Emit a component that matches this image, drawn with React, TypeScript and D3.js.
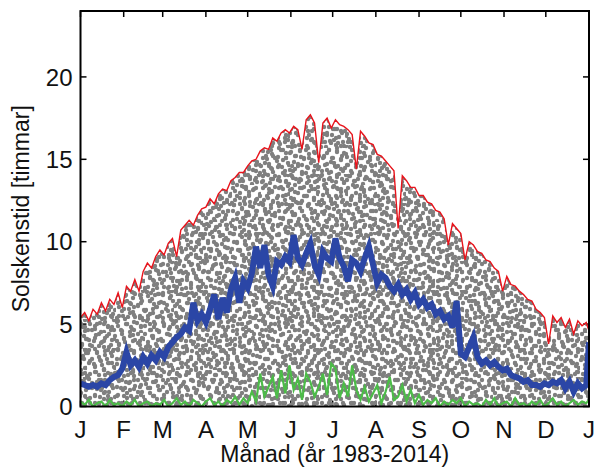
import React from 'react';
import * as d3 from 'd3';

// Day of year for each sample (every third day, plus the last day)
const days: number[] = d3.range(1, 365, 3).concat([366]);

// Highest daily sunshine (red), 1983-2014
const maxHours: number[] = [
    5.4, 5.7, 5.2, 5.9, 5.6, 6.3, 5.8, 6.5, 6.2, 6.9,
    6.0, 7.3, 7.0, 7.7, 7.0, 8.2, 8.7, 8.4, 9.1, 9.5,
    9.2, 9.9, 10.2, 9.1, 10.7, 11.0, 11.3, 11.0, 11.6, 12.0,
    12.1, 12.6, 12.3, 12.9, 13.2, 13.1, 13.7, 13.9, 14.2, 14.2,
    14.6, 14.9, 15.0, 15.5, 15.7, 15.6, 16.3, 16.1, 16.6, 16.8,
    16.6, 17.0, 16.8, 15.6, 17.4, 17.7, 17.2, 14.8, 17.2, 17.5,
    16.9, 17.4, 17.1, 17.0, 16.8, 16.5, 14.4, 16.7, 16.4, 16.0,
    15.9, 15.3, 15.2, 14.9, 14.6, 14.3, 10.8, 14.0, 13.7, 13.3,
    13.3, 12.8, 12.8, 12.4, 12.3, 11.9, 11.8, 11.4, 9.8, 11.1,
    10.8, 10.5, 8.9, 10.0, 9.8, 9.4, 9.3, 8.9, 8.8, 8.4,
    8.2, 7.0, 7.9, 7.4, 7.3, 7.0, 6.8, 6.5, 6.4, 5.9,
    5.7, 5.4, 3.8, 5.5, 5.1, 5.4, 4.8, 5.3, 4.4, 5.2,
    4.9, 5.1, 4.6
];

// Mean daily sunshine (blue)
const meanHours: number[] = [
    1.4, 1.3, 1.2, 1.3, 1.2, 1.4, 1.3, 1.6, 1.8, 1.9,
    2.3, 3.3, 2.5, 2.8, 2.4, 3.0, 2.6, 3.1, 2.8, 3.3,
    3.0, 3.6, 3.9, 4.2, 4.4, 4.8, 4.6, 6.3, 5.2, 5.6,
    5.1, 5.9, 6.8, 5.3, 6.6, 5.7, 7.1, 7.8, 6.3, 7.6,
    7.2, 8.1, 9.7, 8.4, 9.8, 8.0, 7.3, 8.8, 8.6, 9.1,
    8.8, 10.4, 9.0, 8.6, 9.3, 9.9, 8.6, 8.0, 9.4, 9.0,
    8.8, 10.2, 9.0, 8.5, 7.6, 8.9, 8.7, 8.2, 9.0, 9.7,
    8.6, 7.5, 8.0, 7.8, 7.3, 7.0, 7.4, 6.8, 7.1, 6.5,
    6.9, 6.2, 6.5, 6.0, 6.2, 5.6, 5.8, 5.3, 5.5, 4.8,
    6.4, 3.2, 3.0, 3.6, 4.2, 3.0, 2.6, 2.8, 2.5, 2.7,
    2.4, 2.2, 2.3, 1.9, 1.8, 1.7, 1.5, 1.6, 1.3, 1.3,
    1.2, 1.4, 1.3, 1.5, 1.4, 1.6, 1.1, 1.5, 0.9, 1.4,
    1.1, 1.3, 3.9
];

// Lowest daily sunshine (green)
const minHours: number[] = [
    0.3, 0.1, 0.4, 0.0, 0.2, 0.3, 0.0, 0.4, 0.1, 0.2,
    0.0, 0.3, 0.1, 0.4, 0.0, 0.2, 0.3, 0.0, 0.2, 0.1,
    0.4, 0.0, 0.2, 0.5, 0.1, 0.3, 0.0, 0.4, 0.2, 0.0,
    0.3, 0.5, 0.1, 0.3, 0.0, 0.4, 0.2, 0.6, 0.1, 0.5,
    0.2, 0.9, 0.3, 2.0, 0.6, 1.2, 1.8, 0.5, 2.2, 0.8,
    2.5, 1.0, 1.7, 0.4, 2.0, 1.5, 0.6, 1.2, 2.0, 0.7,
    2.6, 2.3, 0.5, 1.4, 0.6, 2.5, 1.0, 0.4, 1.2, 0.3,
    0.8, 1.3, 0.2, 0.9, 1.8, 0.4, 0.6, 1.3, 0.3, 1.0,
    0.2, 0.7, 0.1, 0.4, 0.2, 0.5, 0.0, 0.3, 0.1, 0.4,
    0.2, 0.5, 0.0, 0.3, 0.1, 0.2, 0.0, 0.4, 0.1, 0.5,
    0.0, 0.2, 0.3, 0.0, 0.5, 0.1, 0.2, 0.0, 0.3, 0.1,
    0.4, 0.0, 0.2, 0.5, 0.1, 0.3, 0.0, 0.2, 0.4, 0.1,
    0.3, 0.2, 0.4
];

const monthStarts: number[] = [1, 32, 60, 91, 121, 152, 182, 213, 244, 274, 305, 335, 366];
const monthLabels: string[] = ['J', 'F', 'M', 'A', 'M', 'J', 'J', 'A', 'S', 'O', 'N', 'D', 'J'];
const yTicks: number[] = [0, 5, 10, 15, 20];

// hand placed dots for the grey scatter texture (three tiles of different size overlaid)
const dotTiles: { size: number; dots: [number, number][] }[] = [
    { size: 23, dots: [[3, 4], [12, 2], [19, 8], [7, 12], [15, 14], [2, 19], [10, 20], [20, 18], [16, 5]] },
    {
        size: 29, dots: [[2, 2], [10, 5], [18, 3], [25, 8], [5, 11], [14, 13], [22, 15],
        [28, 20], [8, 19], [17, 22], [3, 26], [12, 27], [24, 26], [27, 1]]
    },
    {
        size: 37, dots: [[4, 3], [13, 6], [22, 2], [31, 5], [8, 11], [18, 13], [27, 10], [35, 14],
        [2, 18], [12, 20], [23, 19], [31, 22], [6, 26], [16, 28], [26, 27], [34, 30],
        [3, 34], [11, 35], [21, 33], [30, 36]]
    }
];

const font = '"Liberation Sans", Arial, sans-serif';

const App = () => {
    const width = 596;
    const height = 471;
    const left = 80.5;
    const right = 589;
    const top = 11;
    const bottom = 406.5;

    const x = d3.scaleLinear().domain([1, 366]).range([left, right]);
    const y = d3.scaleLinear().domain([0, 24]).range([bottom, top]);

    const n = Math.min(days.length, maxHours.length, meanHours.length, minHours.length);
    const idx = d3.range(n);

    const line = (vals: number[]) =>
        d3.line<number>()
            .x(i => x(days[i]))
            .y(i => y(vals[i]))(idx) || '';

    const cloud = d3.area<number>()
        .x(i => x(days[i]))
        .y0(y(0))
        .y1(i => y(maxHours[i]))(idx) || '';

    const tickLen = 6;

    return (
        <svg width={width} height={height}
            style={{ position: 'absolute', left: 0, top: 0, background: '#fff' }}>
            <defs>
                {dotTiles.map((t, k) => (
                    <pattern key={k} id={`dots${k}`} width={t.size} height={t.size}
                        patternUnits="userSpaceOnUse">
                        {t.dots.map(([cx, cy], i) => (
                            <circle key={i} cx={cx} cy={cy} r={2.2} fill="#7f7f7f" />
                        ))}
                    </pattern>
                ))}
                <clipPath id="plot">
                    <rect x={left} y={top} width={right - left} height={bottom - top} />
                </clipPath>
            </defs>

            {/* ticks, under the data */}
            <g stroke="#000" strokeWidth={1.5}>
                {monthStarts.map((d, i) => (
                    <g key={i}>
                        <line x1={x(d)} x2={x(d)} y1={top} y2={top + tickLen} />
                        <line x1={x(d)} x2={x(d)} y1={bottom} y2={bottom - tickLen} />
                    </g>
                ))}
                {yTicks.map(t => (
                    <g key={t}>
                        <line x1={left} x2={left + tickLen} y1={y(t)} y2={y(t)} />
                        <line x1={right} x2={right - tickLen} y1={y(t)} y2={y(t)} />
                    </g>
                ))}
            </g>

            <g clipPath="url(#plot)">
                {dotTiles.map((t, k) => (
                    <path key={k} d={cloud} fill={`url(#dots${k})`} />
                ))}
                <path d={line(maxHours)} fill="none" stroke="#e8141c" strokeWidth={1.4} />
                <path d={line(minHours)} fill="none" stroke="#4cbc48" strokeWidth={2.2} />
                <path d={line(meanHours)} fill="none" stroke="#2b46a6" strokeWidth={6} />
            </g>

            <rect x={left} y={top} width={right - left} height={bottom - top}
                fill="none" stroke="#000" strokeWidth={2} />

            {yTicks.map(t => (
                <text key={t} x={left - 8} y={y(t)} dy="0.36em" textAnchor="end"
                    fontFamily={font} fontSize={24} fill="#111">{t}</text>
            ))}
            {monthStarts.map((d, i) => (
                <text key={i} x={x(d)} y={438} textAnchor="middle"
                    fontFamily={font} fontSize={24} fill="#111">{monthLabels[i]}</text>
            ))}

            <text x={(left + right) / 2} y={462} textAnchor="middle"
                fontFamily={font} fontSize={23} fill="#111">Månad (år 1983-2014)</text>
            <text transform={`translate(29, ${(top + bottom) / 2}) rotate(-90)`}
                textAnchor="middle" fontFamily={font} fontSize={23} fill="#111">
                Solskenstid [timmar]
            </text>
        </svg>
    );
};

export default App;
